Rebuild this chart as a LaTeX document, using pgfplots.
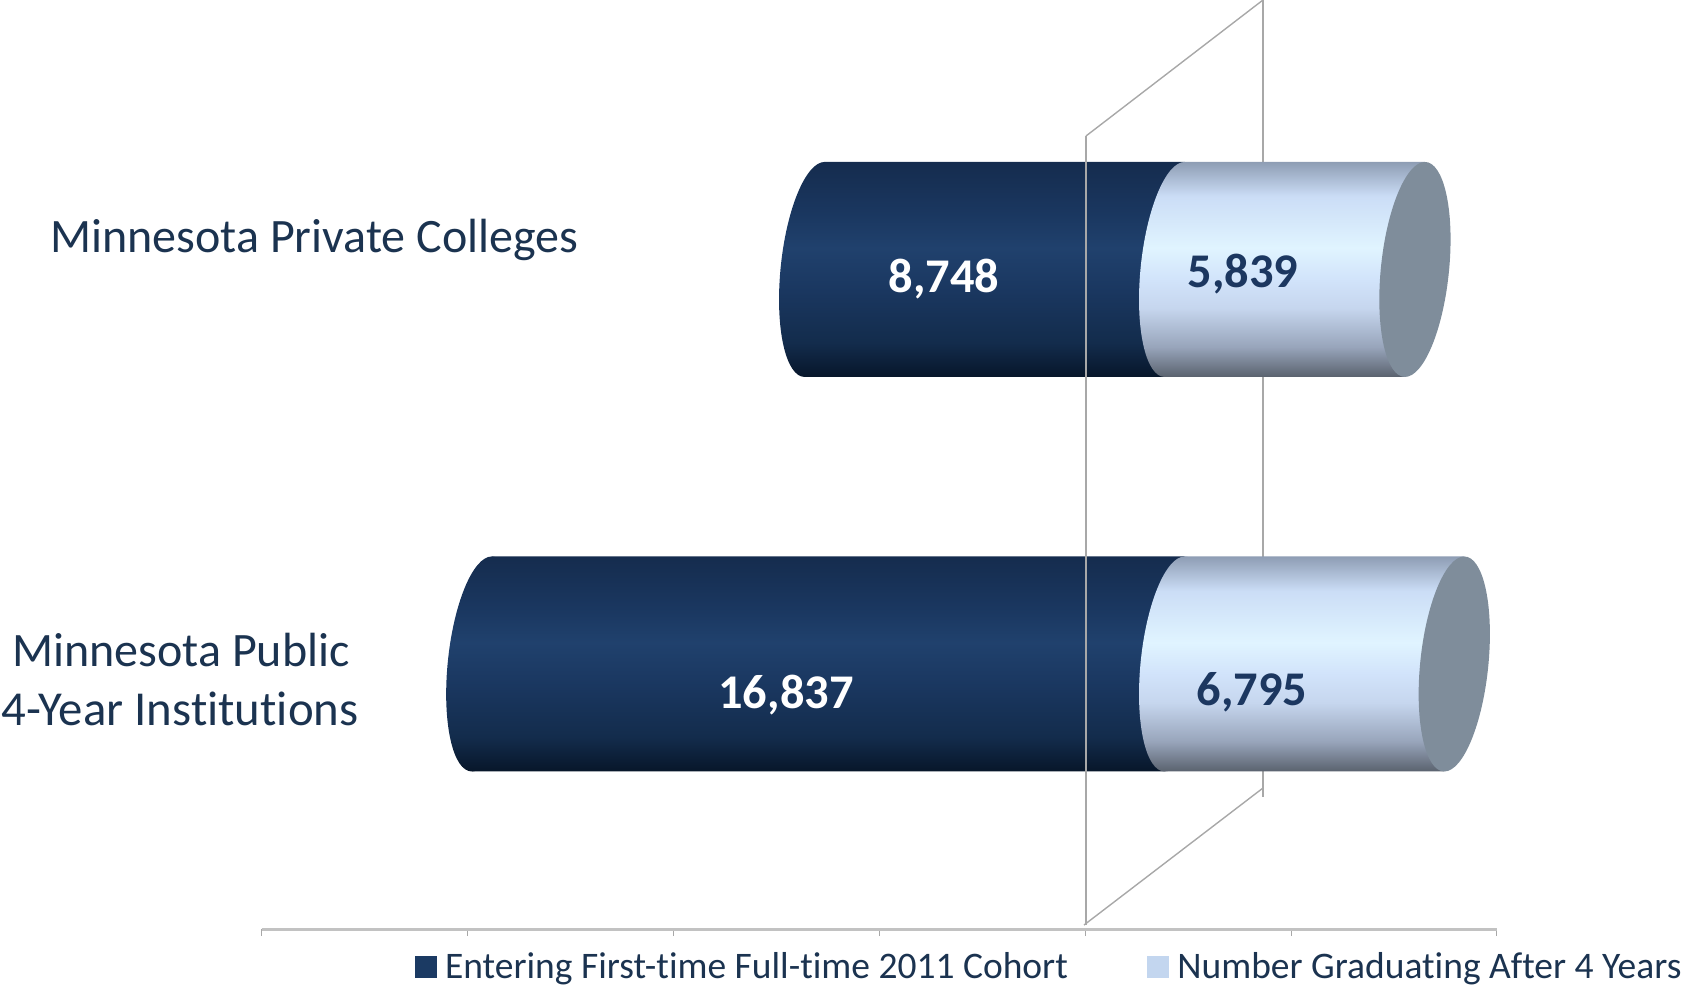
\documentclass[border=0pt]{standalone}
\usepackage{fontspec}
\setmainfont[RawFeature={-liga;-clig;-dlig;-calt;-hlig}]{Carlito}
\usepackage{pgfplots}
\pgfplotsset{compat=1.18}
\definecolor{textnavy}{HTML}{1B3350}
\definecolor{numnavy}{HTML}{1C3760}
\definecolor{wallgray}{HTML}{A8A8A8}
\definecolor{axisgray}{HTML}{C2C2C2}
\definecolor{capgray}{HTML}{7F8D9B}
\definecolor{swdark}{HTML}{1B3A63}
\definecolor{swlight}{HTML}{C3D6EF}
\definecolor{da}{HTML}{07162A}\definecolor{db}{HTML}{132C4C}\definecolor{dc}{HTML}{1A3760}
\definecolor{dd}{HTML}{20416D}\definecolor{de}{HTML}{1A3760}\definecolor{df}{HTML}{152C4E}
\definecolor{la}{HTML}{5A626E}\definecolor{lb}{HTML}{98A5BB}\definecolor{lc}{HTML}{C6D6EE}
\definecolor{ld}{HTML}{D2E4FB}\definecolor{le}{HTML}{E0F4FF}\definecolor{lf}{HTML}{CBDDF6}\definecolor{lg}{HTML}{8E9DB4}
\pgfdeclareverticalshading{darkcyl}{100bp}{color(0bp)=(da);color(25bp)=(da);color(33bp)=(db);color(45bp)=(dc);color(55bp)=(dd);color(63bp)=(de);color(75bp)=(df);color(100bp)=(df)}
\pgfdeclareverticalshading{lightcyl}{100bp}{color(0bp)=(la);color(25bp)=(la);color(32bp)=(lb);color(41bp)=(lc);color(48bp)=(ld);color(55bp)=(le);color(67bp)=(lf);color(75bp)=(lg);color(100bp)=(lg)}
\def\cylpath{\pgftransformcm{1}{0}{0.0926}{1}{\pgfpointorigin}\pgfpathellipse{\pgfpointorigin}{\pgfqpoint{17.1pt}{0pt}}{\pgfqpoint{0pt}{53.75pt}}}
\pgfdeclareplotmark{darkend}{\cylpath\pgfshadepath{darkcyl}{0}\pgfusepath{discard}}
\pgfdeclareplotmark{lightend}{\cylpath\pgfshadepath{lightcyl}{0}\pgfusepath{discard}}
\pgfdeclareplotmark{capend}{\cylpath\pgfusepath{fill}}
\begin{document}
\begin{tikzpicture}[x=0.5pt,y=0.5pt]
\path[use as bounding box] (0,0) rectangle (1684,985);
% axis with ticks and legend
\begin{axis}[
  at={(130.75pt,28pt)},anchor=south west,
  scale only axis,width=617.7pt,height=464.5pt,
  xmin=-20000,xmax=10000,ymin=-0.6717,ymax=1.683,
  axis y line=none,axis x line=bottom,
  axis line style={draw=axisgray,line width=1.5pt,-},
  xtick={-20000,-15000,-10000,-5000,0,5000,10000},
  xticklabels={},ytick=\empty,scaled x ticks=false,
  tick style={color=wallgray,line width=0.5pt},
  tick align=outside,major tick length=3.5pt,
  clip=false,
  legend columns=2,
  legend cell align=left,
  legend style={at={(0.124,-0.0409)},anchor=west,draw=none,fill=none,inner sep=0pt,outer sep=0pt,
    font=\fontsize{18.75}{20}\selectfont,text=textnavy,
    /tikz/every even column/.append style={column sep=37.5pt}},
  legend image code/.code={\fill[#1] (0pt,-5.25pt) rectangle (10.5pt,5.25pt);\path[draw=none,fill=none] (0pt,0pt)--(13pt,0pt);},
]
\addlegendimage{swdark}\addlegendentry{Entering First-time Full-time 2011 Cohort}
\addlegendimage{swlight}\addlegendentry{Number Graduating After 4 Years}
\end{axis}
% back wall
\draw[wallgray,line width=0.7pt] (1263,985)--(1263,188);
\draw[wallgray,line width=0.7pt] (1086,849)--(1263,985);
\draw[wallgray,line width=0.7pt] (1084,60)--(1263,197);
% bars
\begin{axis}[
  at={(0pt,0pt)},anchor=south west,
  scale only axis,width=842pt,height=492.5pt,
  xmin=-28545,xmax=12378,ymin=-0.8137,ymax=1.683,
  axis lines=none,clip=false,
  bar shift=0pt,bar width=107.5pt,
]
\addplot[xbar,draw=none,shading=darkcyl,transform canvas={cm={1,0,0.0926,1,(-33.13pt,0pt)}}] coordinates {(-8748,1)};
\addplot[xbar,draw=none,shading=darkcyl,transform canvas={cm={1,0,0.0926,1,(-14.86pt,0pt)}}] coordinates {(-16837,0)};
\addplot[only marks,draw=none,fill=none,mark=darkend] coordinates {(-8748,1) (-16837,0)};
\addplot[xbar,draw=none,shading=lightcyl,transform canvas={cm={1,0,0.0926,1,(-33.13pt,0pt)}}] coordinates {(5839,1)};
\addplot[xbar,draw=none,shading=lightcyl,transform canvas={cm={1,0,0.0926,1,(-14.86pt,0pt)}}] coordinates {(6795,0)};
\addplot[only marks,draw=none,fill=none,mark=lightend] coordinates {(0,1) (0,0)};
\addplot[only marks,draw=none,fill=capgray,mark=capend] coordinates {(5839,1) (6795,0)};
\end{axis}
% front wall line
\draw[wallgray,line width=0.7pt] (1086,849)--(1086,60);
% value labels
\node[text=white,font=\fontsize{24.2}{26}\bfseries\selectfont] at (944,706) {8,748};
\node[text=numnavy,font=\fontsize{24.2}{26}\bfseries\selectfont] at (1243,711) {5,839};
\node[text=white,font=\fontsize{24.2}{26}\bfseries\selectfont] at (786,290) {16,837};
\node[text=numnavy,font=\fontsize{24.2}{26}\bfseries\selectfont] at (1252,293) {6,795};
% category labels
\node[text=textnavy,font=\fontsize{24}{26}\selectfont,anchor=west,inner sep=0pt] at (50,745) {Minnesota Private Colleges};
\node[text=textnavy,font=\fontsize{24}{26}\selectfont,inner sep=0pt] at (181,335) {Minnesota Public};
\node[text=textnavy,font=\fontsize{24.4}{26}\selectfont,inner sep=0pt] at (180,276) {4-Year Institutions};
\end{tikzpicture}
\end{document}
